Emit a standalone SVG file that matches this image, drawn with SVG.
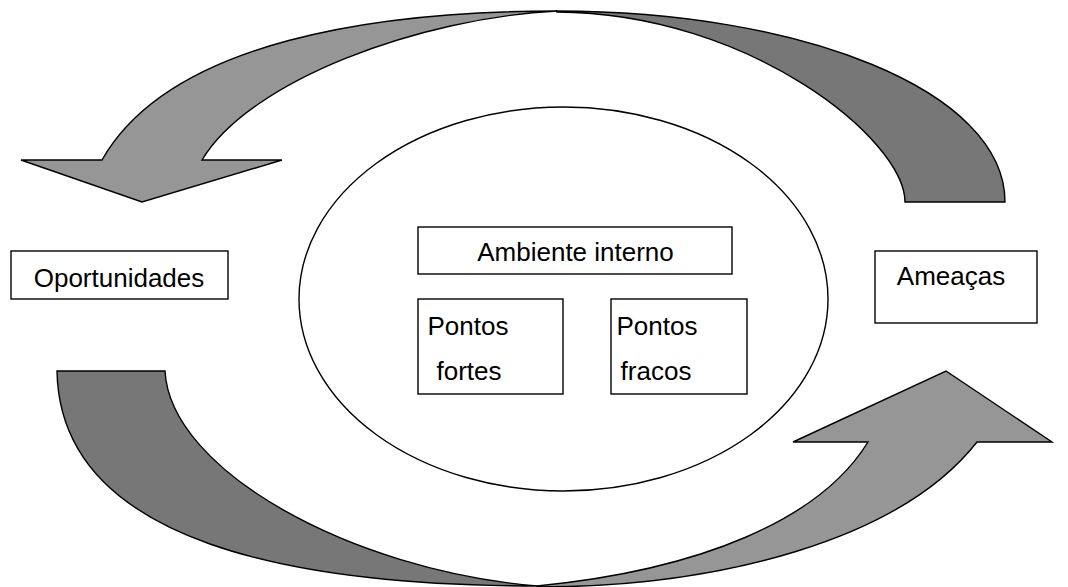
<svg xmlns="http://www.w3.org/2000/svg" width="1068" height="587" viewBox="0 0 1068 587">
<style>
.lt{fill:#969696;stroke:#000;stroke-width:1.4;stroke-linejoin:miter}
.dk{fill:#777777;stroke:#000;stroke-width:1.4;stroke-linejoin:miter}
.box{fill:#fff;stroke:#000;stroke-width:1.4}
.t{font-family:"Liberation Sans",Arial,sans-serif;font-size:26px;fill:#000;text-anchor:middle}
</style>
<rect width="1068" height="587" fill="#fff"/>
<g id="connectors">
<path class="dk" d="M557,11 C800,11 1005,90 1005,202 L905,202 C905,140 750,13 557,12 Z"/>
<path class="lt" d="M21,160 L102,160 C170,40 380,11 557,11 C420,18 250,80 202,160 L282,160 L142,202 Z"/>
<path class="dk" d="M57,371 L165,371 C170,470 350,570 537,586 C300,586 60,545 57,371 Z"/>
<path class="lt" d="M537,586 C700,570 820,520 868,442 L793,442 L946,371 L1052,442 L977,442 C900,540 720,587 537,587 Z"/>
</g>
<g id="ambiente-externo">
<ellipse cx="563.5" cy="299" rx="264.5" ry="192" fill="#fff" stroke="#000" stroke-width="1.4"/>
</g>
<g id="ambiente-interno">
<rect class="box" x="418" y="227" width="314" height="47"/>
<text class="t" x="575.5" y="261">Ambiente interno</text>
</g>
<g id="pontos-fortes">
<rect class="box" x="418" y="299" width="145" height="95"/>
<text class="t" x="468" y="335">Pontos</text>
<text class="t" x="469" y="380">fortes</text>
</g>
<g id="pontos-fracos">
<rect class="box" x="611" y="299" width="136" height="95"/>
<text class="t" x="657" y="335">Pontos</text>
<text class="t" x="656" y="380">fracos</text>
</g>
<g id="oportunidades">
<rect class="box" x="11" y="251" width="217" height="48"/>
<text class="t" x="119" y="287">Oportunidades</text>
</g>
<g id="ameacas">
<rect class="box" x="875" y="251" width="162" height="72"/>
<text class="t" x="951" y="285">Ameaças</text>
</g>
</svg>
